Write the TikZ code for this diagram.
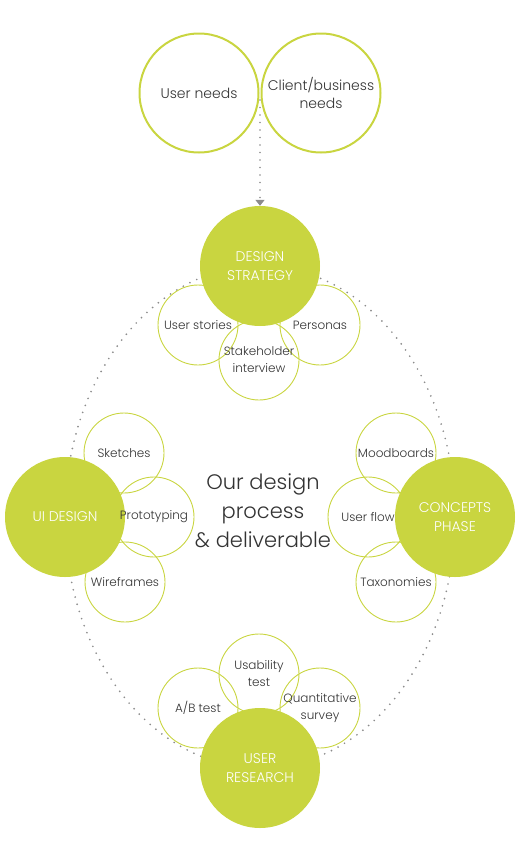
\documentclass[tikz,border=0pt]{standalone}
\usepackage{fontspec}
\setmainfont{Poppins Light}
\usepackage{xcolor}
\usepackage{tikz}
\usetikzlibrary{arrows.meta}

\definecolor{leaf}{RGB}{201,213,64}
\definecolor{ink}{RGB}{51,51,51}
\definecolor{dots}{RGB}{140,140,140}

\begin{document}
\begin{tikzpicture}[x=1pt, y=-1pt,
  need/.style={circle, draw=leaf, line width=2pt, minimum size=119pt, inner sep=0pt, align=center, text=ink, font=\fontsize{14}{18}\selectfont},
  phase/.style={circle, fill=leaf, minimum size=120pt, inner sep=0pt, align=center, text=white, font=\fontsize{14}{19}\selectfont},
  item/.style={circle, draw=leaf, line width=0.9pt, minimum size=80pt, inner sep=0pt},
  itemtext/.style={align=center, text=ink, inner sep=0pt, font=\fontsize{12}{17}\selectfont},
  dotline/.style={dots, line width=1.9pt, line cap=round, dash pattern=on 0pt off 7.5pt}]
\useasboundingbox (0,0) rectangle (520,860);

% nodes %
\node[need] (user) at (199,93) {User needs};
\node[need] (client) at (321,93) {Client/business\\needs};
\coordinate (meet) at (260,100);
\coordinate (mid) at (260,517);

% process loop %
\draw[dotline] (mid) ellipse [x radius=195, y radius=251];

% deliverables %
\node[item] (stories) at (198,325) {};
\node[item] (personas) at (320,325) {};
\node[item] (stakeholder) at (259,360) {};
\node[item] (sketches) at (124,453) {};
\node[item] (proto) at (154,517) {};
\node[item] (wire) at (125,582) {};
\node[item] (mood) at (396,453) {};
\node[item] (flow) at (368,517) {};
\node[item] (taxo) at (396,582) {};
\node[item] (ab) at (198,708) {};
\node[item] (usability) at (259,674) {};
\node[item] (quanti) at (320,708) {};

% phases %
\node[phase] (strategy) at (260,266) {DESIGN\\STRATEGY};
\node[phase] (ui) at (65,517) {UI DESIGN};
\node[phase] (concepts) at (455,517) {CONCEPTS\\PHASE};
\node[phase] (research) at (260,768) {USER\\RESEARCH};

% labels %
\node[itemtext] (stories-t) at (stories) {User stories};
\node[itemtext] (personas-t) at (personas) {Personas};
\node[itemtext] (stakeholder-t) at (stakeholder) {Stakeholder\\interview};
\node[itemtext] (sketches-t) at (sketches) {Sketches};
\node[itemtext] (proto-t) at (proto) {Prototyping};
\node[itemtext] (wire-t) at (wire) {Wireframes};
\node[itemtext] (mood-t) at (mood) {Moodboards};
\node[itemtext] (flow-t) at (flow) {User flow};
\node[itemtext] (taxo-t) at (taxo) {Taxonomies};
\node[itemtext] (ab-t) at (ab) {A/B test};
\node[itemtext] (usability-t) at (usability) {Usability\\test};
\node[itemtext] (quanti-t) at (quanti) {Quantitative\\survey};

\node[align=center, text=ink, font=\fontsize{21}{29}\selectfont] (title) at (263,511) {Our design\\process\\\& deliverable};

% edges %
\draw[dotline, -{Triangle[width=9pt, length=6pt, fill=dots]}] (meet) -- (strategy.north);
\end{tikzpicture}
\end{document}
